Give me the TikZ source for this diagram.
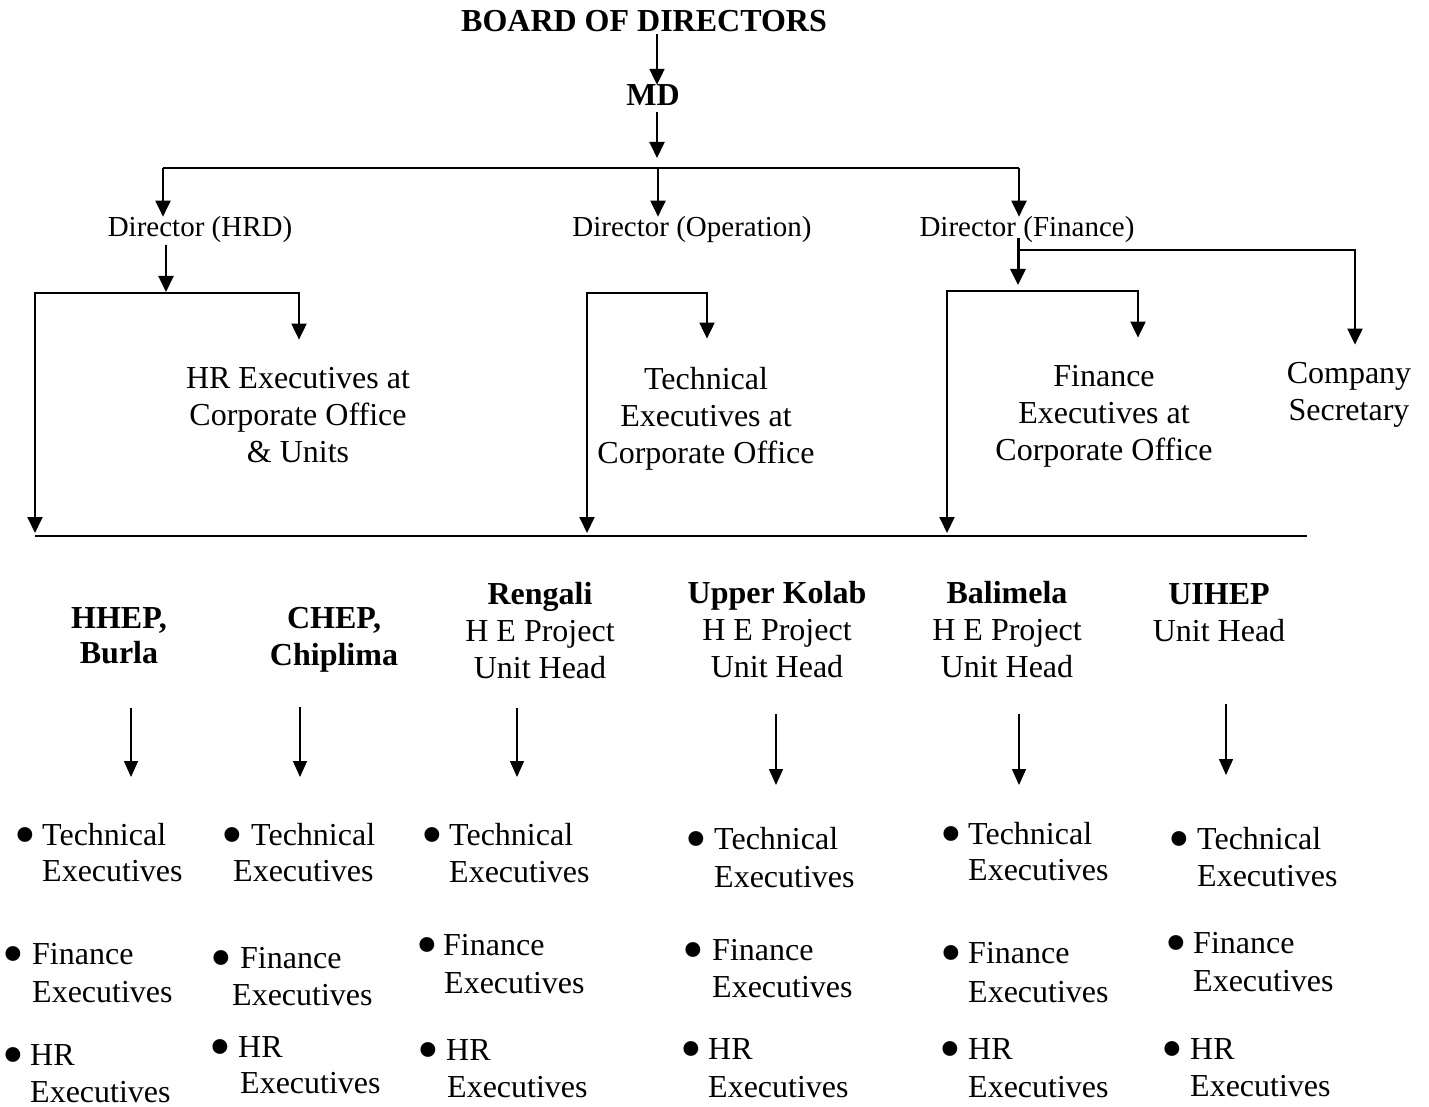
\documentclass[tikz,border=0pt]{standalone}
\usepackage{fontspec}
\setmainfont{Liberation Serif}
\usetikzlibrary{arrows.meta}
\newcommand{\bitem}[7]{%
  \node[bdot] (#1b) at (#2,{#4+10}) {•};
  \node[itm] (#1t) at (#3,#4) {#5};
  \node[itm] (#1e) at (#6,#7) {Executives};%
}
\begin{document}
\begin{tikzpicture}[x=1pt,y=-1pt,
  txt/.style={inner sep=0pt, align=center, anchor=base, font=\fontsize{32}{37}\selectfont},
  btxt/.style={txt, font=\fontsize{32}{37}\selectfont\bfseries},
  dtxt/.style={inner sep=0pt, anchor=base, font=\fontsize{29}{34}\selectfont},
  itm/.style={inner sep=0pt, anchor=base west, font=\fontsize{32}{37}\selectfont},
  bdot/.style={inner sep=0pt, anchor=base, font=\fontsize{62}{62}\selectfont},
  ln/.style={line width=2pt},
  arr/.style={line width=2pt, -{Triangle[width=15pt,length=16pt]}},
  farr/.style={line width=3pt, -{Triangle[width=15pt,length=16pt]}},
  uarr/.style={line width=1.5pt, -{Triangle[width=14pt,length=16pt]}},
]
\fill[white] (0,0) rectangle (1429,1107);
\useasboundingbox (0,0) rectangle (1429,1107);

% ---- nodes (multi-line nodes are placed by the baseline of their last line) ----
\node[btxt] (bod) at (644,32) {BOARD OF DIRECTORS};
\node[btxt] (md) at (653,106) {MD};
\node[dtxt] (hrd) at (200,237) {Director (HRD)};
\node[dtxt] (dop) at (692,237) {Director (Operation)};
\node[dtxt] (dfin) at (1027,237) {Director (Finance)};
\node[txt] (hrx) at (298,462) {HR Executives at\\Corporate Office\\\& Units};
\node[txt] (tex) at (706,463) {Technical\\Executives at\\Corporate Office};
\node[txt] (fex) at (1104,460) {Finance\\Executives at\\Corporate Office};
\node[txt] (csec) at (1349,420) {Company\\Secretary};

\node[btxt] (u1) at (119,663) {HHEP,\\[-2pt]Burla};
\node[btxt] (u2) at (334,665) {CHEP,\\Chiplima};
\node[txt] (u3) at (540,678) {\textbf{Rengali}\\H E Project\\Unit Head};
\node[txt] (u4) at (777,677) {\textbf{Upper Kolab}\\H E Project\\Unit Head};
\node[txt] (u5) at (1007,677) {\textbf{Balimela}\\H E Project\\Unit Head};
\node[txt] (u6) at (1219,641) {\textbf{UIHEP}\\Unit Head};

\bitem{c1a}{25}{42}{845}{Technical}{42}{881}
\bitem{c1b}{13}{32}{964}{Finance}{32}{1002}
\bitem{c1c}{13}{30}{1065}{HR}{30}{1102}
\bitem{c2a}{232}{251}{845}{Technical}{233}{881}
\bitem{c2b}{221}{240}{968}{Finance}{232}{1005}
\bitem{c2c}{220}{238}{1057}{HR}{240}{1093}
\bitem{c3a}{432}{449}{845}{Technical}{449}{882}
\bitem{c3b}{427}{443}{955}{Finance}{444}{993}
\bitem{c3c}{428}{446}{1060}{HR}{447}{1097}
\bitem{c4a}{696}{714}{849}{Technical}{714}{887}
\bitem{c4b}{693}{712}{960}{Finance}{712}{997}
\bitem{c4c}{691}{708}{1059}{HR}{708}{1097}
\bitem{c5a}{951}{968}{844}{Technical}{968}{880}
\bitem{c5b}{951}{968}{963}{Finance}{968}{1002}
\bitem{c5c}{950}{968}{1059}{HR}{968}{1097}
\bitem{c6a}{1179}{1197}{849}{Technical}{1197}{886}
\bitem{c6b}{1176}{1193}{953}{Finance}{1193}{991}
\bitem{c6c}{1172}{1190}{1059}{HR}{1190}{1096}

% ---- coordinates ----
\coordinate (spine) at (657,0);
\coordinate (mdtip) at (657,158);
\coordinate (b1) at (163,168);
\coordinate (b2) at (658,168);
\coordinate (b3) at (1019,168);
\coordinate (h1) at (166,292);
\coordinate (hl) at (35,293);
\coordinate (hr) at (299,293);
\coordinate (o1) at (587,293);
\coordinate (o2) at (707,293);
\coordinate (fj) at (1018,250);
\coordinate (ft) at (1018,285);
\coordinate (cs) at (1355,250);
\coordinate (f1) at (947,291);
\coordinate (f2) at (1138,291);
\coordinate (ul) at (35,536);
\coordinate (ur) at (1307,536);
\coordinate (k1) at (131,777);
\coordinate (k2) at (300,777);
\coordinate (k3) at (517,777);
\coordinate (k4) at (776,785);
\coordinate (k5) at (1019,785);
\coordinate (k6) at (1226,775);

% ---- connectors ----
\draw[arr, shorten <=1pt] (bod.south -| spine) -- (md.north -| spine);
\draw[arr, shorten <=6pt] (md.south -| spine) -- (mdtip);
\draw[ln] (b1) -- (b3);
\draw[arr] (b1) -- (b1 |- hrd.north);
\draw[arr] (b2) -- (b2 |- dop.north);
\draw[arr] (b3) -- (b3 |- dfin.north);

\draw[arr, shorten <=2pt] (hrd.south -| h1) -- (h1);
\draw[arr, shorten >=3pt] (hr) -- (hl) -- (hl |- ul);
\draw[arr, shorten >=27pt] (hl) -- (hr) -- (hr |- hrx.north);

\draw[arr, shorten >=3pt] (o2) -- (o1) -- (o1 |- ul);
\draw[arr, shorten >=28pt] (o1) -- (o2) -- (o2 |- tex.north);

\draw[farr, shorten <=-5pt] (dfin.south -| fj) -- (ft);
\draw[arr, shorten >=17pt] (fj) -- (cs) -- (cs |- csec.north);
\draw[arr, shorten >=3pt] (f2) -- (f1) -- (f1 |- ul);
\draw[arr, shorten >=27pt] (f1) -- (f2) -- (f2 |- fex.north);

\draw[ln] (ul) -- (ur);

\draw[uarr, shorten <=44pt] (u1.south -| k1) -- (k1);
\draw[uarr, shorten <=35pt] (u2.south -| k2) -- (k2);
\draw[uarr, shorten <=29pt] (u3.south -| k3) -- (k3);
\draw[uarr, shorten <=36pt] (u4.south -| k4) -- (k4);
\draw[uarr, shorten <=36pt] (u5.south -| k5) -- (k5);
\draw[uarr, shorten <=62pt] (u6.south -| k6) -- (k6);
\end{tikzpicture}
\end{document}
